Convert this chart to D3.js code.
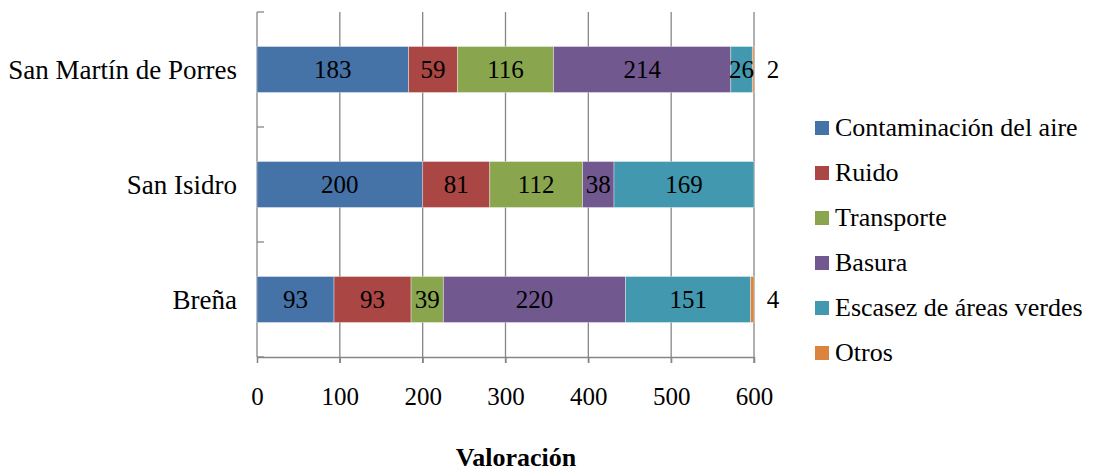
<!DOCTYPE html>
<html>
<head>
<meta charset="utf-8">
<script src="https://cdn.jsdelivr.net/npm/d3@7/dist/d3.min.js"></script>
<style>
  html, body { margin: 0; padding: 0; background: #fff; }
  svg text { font-family: 'Liberation Serif', 'Times New Roman', serif; }
</style>
</head>
<body>
<svg id="chart" width="1093" height="472"></svg>
<script>
// Districts, from top to bottom
const districts = ["San Martín de Porres", "San Isidro", "Breña"];
// Problem categories (stack order)
const categories = ["Contaminación del aire", "Ruido", "Transporte", "Basura", "Escasez de áreas verdes", "Otros"];
// Scores per category, one value per district (same order as districts)
const contaminacion = [183, 200, 93];
const ruido         = [59, 81, 93];
const transporte    = [116, 112, 39];
const basura        = [214, 38, 220];
const areasVerdes   = [26, 169, 151];
const otros         = [2, 0, 4];
const xTicks = [0, 100, 200, 300, 400, 500, 600];
const colors = ["#4572A7", "#AA4643", "#89A54E", "#71588F", "#4198AF", "#DB843D"];

const FONT = "'Liberation Serif', 'Times New Roman', serif";
const FC = 27;   // district labels
const FS = 26;   // legend, title
const FN = 25;   // numbers

const seriesValues = [contaminacion, ruido, transporte, basura, areasVerdes, otros];
const rows = districts.map((d, i) => {
  const r = { district: d };
  categories.forEach((c, k) => { r[c] = seriesValues[k][i]; });
  return r;
});

const svg = d3.select("#chart");
const plotLeft = 257, plotRight = 754, plotTop = 12, plotBottom = 357;

const x = d3.scaleLinear().domain([0, 600]).range([plotLeft, plotRight]);
const y = d3.scaleBand().domain(districts).range([plotTop, plotBottom]).paddingInner(0.6).paddingOuter(0.3);
const color = d3.scaleOrdinal().domain(categories).range(colors);

// Vertical gridlines
svg.append("g")
  .selectAll("line")
  .data(xTicks.slice(1))
  .join("line")
  .attr("x1", d => x(d)).attr("x2", d => x(d))
  .attr("y1", plotTop).attr("y2", plotBottom + 6)
  .attr("stroke", "#868686").attr("stroke-width", 1.3);

// Bottom axis line with tick marks and labels
const xAxis = d3.axisBottom(x).tickValues(xTicks).tickSize(6).tickPadding(25).tickFormat(d3.format("d"));
const gx = svg.append("g").attr("transform", `translate(0,${plotBottom})`).call(xAxis);
gx.attr("font-family", null).attr("font-size", null);
gx.select(".domain").attr("stroke", "#868686").attr("stroke-width", 1.3);
gx.selectAll(".tick line").attr("stroke", "#868686").attr("stroke-width", 1.3);
gx.selectAll(".tick text").attr("fill", "#000").attr("dy", "0.68em")
  .style("font-family", FONT).style("font-size", FN + "px");

// Left axis: category boundaries with inward ticks
const bounds = [plotTop].concat(districts.map((d, i) => plotTop + (plotBottom - plotTop) * (i + 1) / districts.length));
svg.append("line")
  .attr("x1", plotLeft).attr("x2", plotLeft).attr("y1", plotTop).attr("y2", plotBottom)
  .attr("stroke", "#868686").attr("stroke-width", 1.3);
svg.append("g").selectAll("line").data(bounds).join("line")
  .attr("x1", plotLeft).attr("x2", plotLeft + 7)
  .attr("y1", d => d).attr("y2", d => d)
  .attr("stroke", "#868686").attr("stroke-width", 1.3);

// Category labels
svg.append("g").selectAll("text").data(districts).join("text")
  .attr("x", 237)
  .attr("y", d => y(d) + y.bandwidth() / 2)
  .attr("text-anchor", "end")
  .attr("dy", "0.35em")
  .style("font-family", FONT).style("font-size", FC + "px")
  .text(d => d);

// Stacked bars
const stacked = d3.stack().keys(categories)(rows);
const layers = svg.append("g").selectAll("g").data(stacked).join("g")
  .attr("fill", d => color(d.key));
layers.selectAll("rect")
  .data(d => d.map(p => ({ key: d.key, p })))
  .join("rect")
  .attr("x", d => x(d.p[0]))
  .attr("y", d => y(d.p.data.district))
  .attr("width", d => x(d.p[1]) - x(d.p[0]))
  .attr("height", y.bandwidth())
  .attr("stroke", "rgba(255,255,255,0.45)")
  .attr("stroke-width", d => (d.p[1] - d.p[0]) > 0 ? 0.8 : 0);

// Value labels
const labels = [];
stacked.forEach(s => s.forEach(p => {
  const v = p[1] - p[0];
  if (v <= 0) return;
  const small = s.key === "Otros";
  labels.push({
    v,
    x: small ? x(p[1]) + 19 : (x(p[0]) + x(p[1])) / 2,
    y: y(p.data.district) + y.bandwidth() / 2
  });
}));
svg.append("g").selectAll("text").data(labels).join("text")
  .attr("x", d => d.x).attr("y", d => d.y)
  .attr("text-anchor", "middle")
  .attr("dy", "0.35em")
  .style("font-family", FONT).style("font-size", FN + "px")
  .text(d => d.v);

// Legend
const legend = svg.append("g").selectAll("g").data(categories).join("g")
  .attr("transform", (d, i) => `translate(815,${127 + i * 45})`);
legend.append("rect")
  .attr("x", 0).attr("y", -6).attr("width", 14).attr("height", 14)
  .attr("fill", d => color(d));
legend.append("text")
  .attr("x", 20).attr("y", 0)
  .attr("dy", "0.35em")
  .style("font-family", FONT).style("font-size", FS + "px")
  .text(d => d);

// Axis title
svg.append("text")
  .attr("x", 516).attr("y", 466)
  .attr("text-anchor", "middle")
  .style("font-family", FONT).style("font-size", FS + "px")
  .style("font-weight", "bold")
  .text("Valoración");
</script>
</body>
</html>
